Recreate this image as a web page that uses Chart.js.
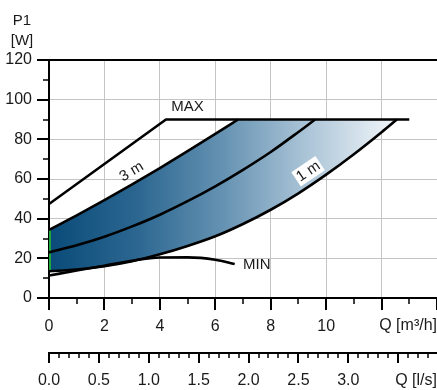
<!DOCTYPE html>
<html><head><meta charset="utf-8">
<script src="https://cdn.jsdelivr.net/npm/chart.js@4.4.0/dist/chart.umd.min.js"></script>
<style>html,body{margin:0;padding:0;background:#fff}#wrap{width:437px;height:390px;position:relative}</style>
</head><body><div id="wrap"><canvas id="c" width="437" height="390"></canvas></div>
<script>
// ---- data (Q in m3/h, P1 in W) ----
const maxQ = [0, 4.22, 13.0];
const maxP = [47.4, 90, 90];
const h3Q = [0, 1, 2, 3, 4, 5, 6, 6.82];
const h3P = [34.3, 41.7, 49.4, 57.3, 65.5, 74.0, 82.7, 90];
const h2Q = [0, 1, 2, 3, 4, 5, 6, 7, 8, 9, 9.6];
const h2P = [23, 26.6, 30.9, 36.1, 42, 48.8, 56.3, 64.6, 73.6, 83.7, 90];
const h1Q = [0, 1, 2, 3, 4, 5, 6, 7, 8, 9, 10, 11, 12, 12.55];
const h1P = [13.5, 14.4, 16.0, 18.5, 22.0, 26.2, 31.1, 37.3, 44.5, 52.8, 62.2, 72.5, 83.6, 90];
const minQ = [0, 1, 2, 3, 4, 5, 6, 6.7];
const minP = [11.3, 13.9, 16.3, 18.8, 20.4, 20.5, 19.3, 17.1];
const qTickLabels = ['0', '2', '4', '6', '8', '10'];
const lsTickLabels = ['0.0', '0.5', '1.0', '1.5', '2.0', '2.5', '3.0'];
const yTitle = ['P1', '[W]'];
const qUnit = 'Q [m\u00B3/h]';
const lsUnit = 'Q [l/s]';
const curveNames = ['MAX', '3 m', '1 m', 'MIN'];
const M3H_PER_LS = 3.6;
const Q_MAX = 14;

const pts = (qs, ps) => qs.map((q, i) => ({x: q, y: ps[i]}));
const FONT = '"Liberation Sans", Arial, Helvetica, sans-serif';
const TXT = '#1a1a1a';
const CLEAR = 'rgba(0,0,0,0)';

const fillTop = pts(h3Q.concat([h1Q[h1Q.length - 1]]), h3P.concat([maxP[maxP.length - 1]]));

function bandGradient(ctx) {
  const chart = ctx.chart;
  if (!chart.chartArea) return CLEAR;
  const xs = chart.scales.x;
  const x0 = xs.getPixelForValue(0), x1 = xs.getPixelForValue(h1Q[h1Q.length - 1]);
  const g = chart.ctx.createLinearGradient(x0, 0, x1, 0);
  g.addColorStop(0, '#0a4b79');
  g.addColorStop(0.25, '#2b6690');
  g.addColorStop(0.5, '#6592b2');
  g.addColorStop(0.72, '#a5c0d4');
  g.addColorStop(1, '#f3f7fa');
  return g;
}

const line = (data, extra) => Object.assign({
  data, borderColor: '#000', borderWidth: 2.6, pointRadius: 0, fill: false,
  cubicInterpolationMode: 'monotone', borderJoinStyle: 'round'
}, extra || {});

const deco = {
  id: 'deco',
  afterDatasetsDraw(chart) {
    const c = chart.ctx, xs = chart.scales.x, ys = chart.scales.y;
    c.save();
    c.font = '15px ' + FONT;
    c.fillStyle = TXT;
    c.textBaseline = 'middle';
    c.textAlign = 'center';
    c.fillText(curveNames[0], xs.getPixelForValue(5.0), ys.getPixelForValue(96.2));
    c.save();
    c.translate(xs.getPixelForValue(2.98), ys.getPixelForValue(63.7));
    c.rotate(-31 * Math.PI / 180);
    c.fillText(curveNames[1], 0, 0);
    c.restore();
    c.save();
    c.translate(xs.getPixelForValue(9.36), ys.getPixelForValue(63.7));
    c.rotate(-34 * Math.PI / 180);
    const w = c.measureText(curveNames[2]).width;
    c.fillStyle = '#fff';
    c.fillRect(-w / 2 - 2, -9, w + 4, 17);
    c.fillStyle = TXT;
    c.fillText(curveNames[2], 0, 0);
    c.restore();
    c.textAlign = 'left';
    c.fillText(curveNames[3], xs.getPixelForValue(7.0), ys.getPixelForValue(16.6));
    c.restore();
  },
  afterDraw(chart) {
    const c = chart.ctx, xs = chart.scales.x, ys = chart.scales.y, x2 = chart.scales.x2;
    const a = chart.chartArea;
    c.save();
    c.strokeStyle = '#000';
    for (let v = 0; v <= 120; v += 10) {
      const y = Math.round(ys.getPixelForValue(v));
      const major = v % 20 === 0;
      c.lineWidth = major ? 2 : 1.5;
      c.beginPath(); c.moveTo(a.left - (major ? 12 : 6), y); c.lineTo(a.left, y); c.stroke();
    }
    for (let v = 0; v <= Q_MAX; v += 1) {
      const x = Math.round(xs.getPixelForValue(v));
      const major = v % 2 === 0;
      c.lineWidth = major ? 2 : 1.5;
      c.beginPath(); c.moveTo(x, a.bottom); c.lineTo(x, a.bottom + (major ? 12 : 6)); c.stroke();
    }
    for (let i = 0; i <= 38; i++) {
      const v = i / 10;
      const x = Math.round(x2.getPixelForValue(v));
      const major = i % 5 === 0;
      c.lineWidth = major ? 2 : 1.5;
      c.beginPath(); c.moveTo(x, x2.top); c.lineTo(x, x2.top + (major ? 10 : 5)); c.stroke();
    }
    c.font = '15px ' + FONT;
    c.fillStyle = TXT;
    c.textBaseline = 'middle';
    c.textAlign = 'center';
    c.fillText(yTitle[0], 22, 21);
    c.fillText(yTitle[1], 22, 41);
    c.font = '16px ' + FONT;
    c.textAlign = 'right';
    c.fillText(qUnit, chart.width, 326);
    c.fillText(lsUnit, chart.width, 381);
    c.restore();
  }
};

new Chart(document.getElementById('c'), {
  type: 'line',
  data: {
    datasets: [
      line(fillTop, {borderWidth: 0, borderColor: CLEAR, fill: 1, backgroundColor: bandGradient, tension: 0, cubicInterpolationMode: 'default'}),
      line(pts(h1Q, h1P)),
      line(pts(h2Q, h2P)),
      line(pts(h3Q, h3P)),
      line(pts(maxQ, maxP), {cubicInterpolationMode: 'default', tension: 0}),
      line(pts(minQ, minP)),
      line(pts([h1Q[0], h3Q[0]], [h1P[0], h3P[0]]), {borderColor: '#1ea83c', borderWidth: 4, tension: 0, cubicInterpolationMode: 'default', clip: 0})
    ]
  },
  plugins: [deco],
  options: {
    responsive: false,
    animation: false,
    events: [],
    layout: {padding: {top: 60, left: 0, right: 0, bottom: 0}},
    plugins: {legend: {display: false}, tooltip: {enabled: false}, filler: {drawTime: 'beforeDatasetsDraw'}},
    scales: {
      x: {
        type: 'linear', position: 'bottom', min: 0, max: Q_MAX,
        afterFit: s => { s.height = 55; },
        grid: {color: '#c4c4c4', lineWidth: 1, drawTicks: true, tickLength: 19, tickColor: CLEAR},
        border: {display: true, color: '#000', width: 2},
        ticks: {stepSize: 2, autoSkip: false, maxRotation: 0, padding: 0, color: TXT, font: {size: 16, family: FONT},
          callback: v => Number.isInteger(v / 2) && qTickLabels[v / 2] !== undefined ? qTickLabels[v / 2] : ''}
      },
      x2: {
        type: 'linear', position: 'bottom', min: 0, max: Q_MAX / M3H_PER_LS,
        afterFit: s => { s.height = 37; },
        grid: {display: true, drawOnChartArea: false, drawTicks: true, tickLength: 18, tickColor: CLEAR, color: CLEAR},
        border: {display: true, color: '#000', width: 2},
        ticks: {stepSize: 0.5, includeBounds: false, autoSkip: false, maxRotation: 0, padding: 0, color: TXT, font: {size: 16, family: FONT},
          callback: v => { const i = Math.round(v * 2); return Math.abs(v * 2 - i) < 1e-6 && lsTickLabels[i] !== undefined ? lsTickLabels[i] : ''; }}
      },
      y: {
        type: 'linear', position: 'left', min: 0, max: 120,
        afterFit: s => { s.width = 49; },
        grid: {drawTicks: false, color: c => c.tick && c.tick.value === 120 ? '#000' : '#c4c4c4', lineWidth: c => c.tick && c.tick.value === 120 ? 2 : 1},
        border: {display: true, color: '#000', width: 2},
        ticks: {stepSize: 20, padding: 17, color: TXT, font: {size: 16, family: FONT}}
      }
    }
  }
});
</script>
</body></html>
